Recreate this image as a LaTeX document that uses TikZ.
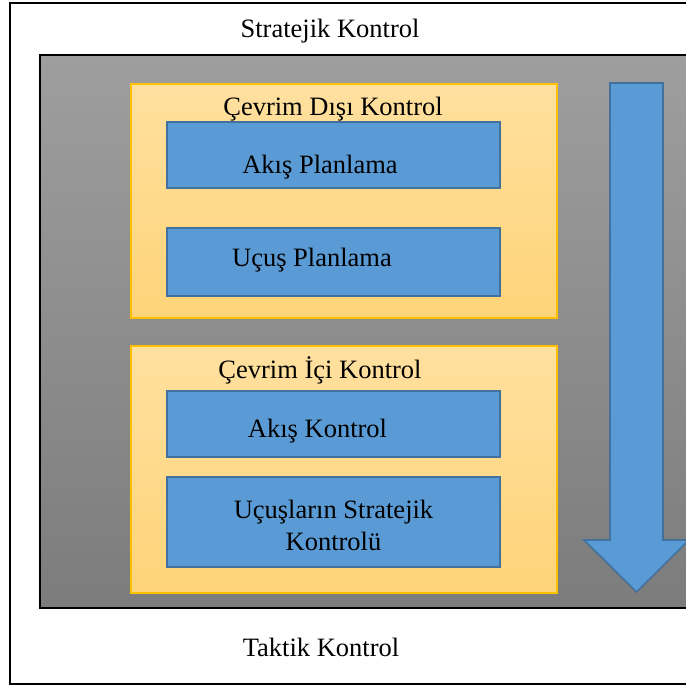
\documentclass[tikz,border=0pt]{standalone}
\usepackage{fontspec}
\setmainfont{Liberation Serif}
\definecolor{bandTop}{HTML}{9E9E9E}
\definecolor{bandBot}{HTML}{7C7C7C}
\definecolor{paleTop}{HTML}{FFE09F}
\definecolor{paleBot}{HTML}{FFD479}
\definecolor{goldEdge}{HTML}{FFC000}
\definecolor{taskFill}{HTML}{5B9BD5}
\definecolor{taskEdge}{HTML}{41719C}
\begin{document}
\begin{tikzpicture}[x=1pt,y=-1pt,
  txt/.style={font=\fontsize{26.5}{32}\selectfont, inner sep=0pt, anchor=base, align=center},
  group/.style={draw=goldEdge, line width=1.2pt, top color=paleTop, bottom color=paleBot},
  task/.style={draw=taskEdge, line width=1.6pt, fill=taskFill}]
\useasboundingbox (0,0) rectangle (686,689);
\clip (0,0) rectangle (686,689);

% outer frame and the grey band
\draw[line width=2pt] (10,3) rectangle (720,684);
\draw[line width=1.5pt, top color=bandTop, bottom color=bandBot] (40,55) rectangle (720,608);

% group panels
\draw[group] (131,84) rectangle (557,318);
\draw[group] (131,346) rectangle (557,593);

% task boxes
\draw[task] (167,122) rectangle (500,188);
\draw[task] (167,228) rectangle (500,296);
\draw[task] (167,391) rectangle (500,457);
\draw[task] (167,477) rectangle (500,567);

% downward arrow
\draw[task, line join=miter] (610,83) -- (663,83) -- (663,540) -- (689,540)
  -- (636.5,592) -- (584,540) -- (610,540) -- cycle;

% labels (a two-line label sits on the baseline of its last line)
\node[txt] (strat) at (330,37) {Stratejik Kontrol};
\node[txt] (offl) at (333,115) {Çevrim Dışı Kontrol};
\node[txt] (akp) at (320,173) {Akış Planlama};
\node[txt] (ucp) at (312,266) {Uçuş Planlama};
\node[txt] (onl) at (320,378) {Çevrim İçi Kontrol};
\node[txt] (akk) at (317.5,437) {Akış Kontrol};
\node[txt] (usk) at (333.5,550) {Uçuşların Stratejik\\Kontrolü};
\node[txt] (takt) at (321,656) {Taktik Kontrol};
\end{tikzpicture}
\end{document}
